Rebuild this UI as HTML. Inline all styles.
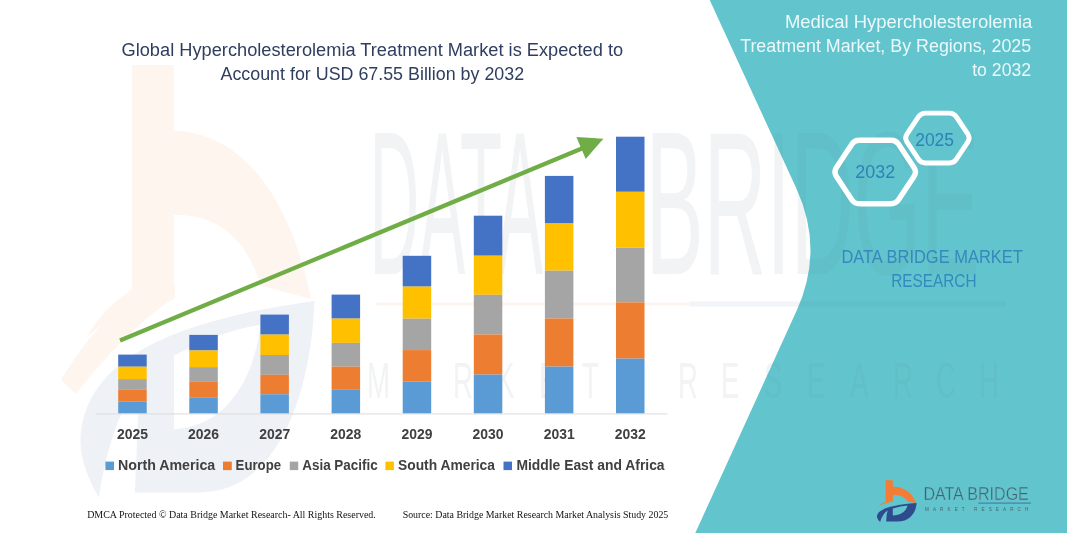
<!DOCTYPE html>
<html><head><meta charset="utf-8"><title>Global Hypercholesterolemia Treatment Market</title>
<style>
html,body{margin:0;padding:0;background:#fff;}
body{width:1067px;height:533px;overflow:hidden;}
svg{display:block;}
text{font-family:"Liberation Sans",sans-serif;}
.serif{font-family:"Liberation Serif",serif;}
</style></head><body>
<svg width="1067" height="533" viewBox="0 0 1067 533">
<defs>
<g id="ICON">
<path fill="#F47C34" d="M885.7,480.3 H892.8 V486.7 C899,486.6 911,489 916.1,502.9 L907.5,501.6 C905.5,497.5 900.5,494.6 892.8,494.8 V501.6 C888,502.4 884,503.6 878,506.6 C880,504.5 883,503 885.7,502 Z"/>
<path fill="#2E4B8E" fill-rule="evenodd" d="M880.1,522.1 C877.5,519.5 876.6,517.5 877.1,515.5 C878.5,510.5 886,505.5 916.6,503.1 C916.3,510 912,521.6 897,521.6 L886.2,521.6 L886.7,514.5 L887.7,510.5 C884.5,512.5 881.5,516.5 880.1,522.1 Z M892.8,508.4 C898,506.8 903,505.8 907.5,505.4 C906.5,510 902.5,515.2 892.8,515.5 Z"/>
</g>
<g id="WM">
<g transform="translate(132,65) scale(5.9,10.35) translate(-885.7,-480.3)"><use href="#ICON"/></g>
<path fill="#F47C34" d="M132,288 L175,284 L175,298 C150,312 112,348 76,394 L61,380 C84,342 108,314 132,298 Z"/>
<text transform="translate(369.5,274) scale(5.6,12.2)" x="0" y="0" font-size="16.8" fill="#4C6470" textLength="30.98" lengthAdjust="spacingAndGlyphs">DATA</text>
<text transform="translate(645.5,274) scale(5.6,12.2)" x="0" y="0" font-size="16.8" fill="#4C6470" textLength="59.64" lengthAdjust="spacingAndGlyphs">BRIDGE</text>
<rect x="376" y="302.5" width="314" height="3" fill="#F47C34"/>
<rect x="690" y="301.5" width="316" height="5" fill="#4A6FA5"/>
<text transform="translate(0,398) scale(6.0,10.9)" x="61.17 68.33 75.50 82.67 89.83 97.00 113.00 120.17 127.33 134.50 141.67 148.83 156.00 163.17" y="0" font-size="4.6" fill="#4C6470">MARKETRESEARCH</text>
</g>
<clipPath id="TEALCLIP"><path d="M709.7,0 L796.5,188.8 Q824.4,249.8 796.6,310.8 L695.3,533 L1067,533 L1067,0 Z"/></clipPath>
<clipPath id="WHITECLIP"><path d="M0,0 L709.7,0 L796.5,188.8 Q824.4,249.8 796.6,310.8 L695.3,533 L0,533 Z"/></clipPath>
</defs>
<rect width="1067" height="533" fill="#ffffff"/>
<!-- watermark (stretched logo) + teal panel -->
<g opacity="0.08"><use href="#WM"/></g>
<path d="M709.7,0 L796.5,188.8 Q824.4,249.8 796.6,310.8 L695.3,533 L1067,533 L1067,0 Z" fill="#62C4CC"/>
<g opacity="0.045" clip-path="url(#TEALCLIP)"><use href="#WM"/></g>
<!-- chart title -->
<g fill="#2F3E60" font-size="17.6">
<text x="121.5" y="56" textLength="501.6" lengthAdjust="spacingAndGlyphs">Global Hypercholesterolemia Treatment Market is Expected to</text>
<text x="220.5" y="79.8" textLength="303.6" lengthAdjust="spacingAndGlyphs">Account for USD 67.55 Billion by 2032</text>
</g>
<!-- axis -->
<rect x="96.3" y="413.4" width="571" height="1" fill="#DCDCDC"/>
<!-- bars -->
<rect x="118.2" y="354.6" width="28.5" height="12.1" fill="#4472C4"/>
<rect x="118.2" y="366.7" width="28.5" height="12.4" fill="#FFC000"/>
<rect x="118.2" y="379.1" width="28.5" height="10.7" fill="#A5A5A5"/>
<rect x="118.2" y="389.8" width="28.5" height="11.9" fill="#ED7D31"/>
<rect x="118.2" y="401.7" width="28.5" height="11.6" fill="#5B9BD5"/>
<rect x="189.3" y="334.9" width="28.5" height="15.6" fill="#4472C4"/>
<rect x="189.3" y="350.5" width="28.5" height="16.6" fill="#FFC000"/>
<rect x="189.3" y="367.1" width="28.5" height="14.2" fill="#A5A5A5"/>
<rect x="189.3" y="381.3" width="28.5" height="16.5" fill="#ED7D31"/>
<rect x="189.3" y="397.8" width="28.5" height="15.5" fill="#5B9BD5"/>
<rect x="260.4" y="314.6" width="28.5" height="20.0" fill="#4472C4"/>
<rect x="260.4" y="334.6" width="28.5" height="20.4" fill="#FFC000"/>
<rect x="260.4" y="355.0" width="28.5" height="19.8" fill="#A5A5A5"/>
<rect x="260.4" y="374.8" width="28.5" height="19.5" fill="#ED7D31"/>
<rect x="260.4" y="394.3" width="28.5" height="19.0" fill="#5B9BD5"/>
<rect x="331.6" y="294.6" width="28.5" height="24.0" fill="#4472C4"/>
<rect x="331.6" y="318.6" width="28.5" height="24.3" fill="#FFC000"/>
<rect x="331.6" y="342.9" width="28.5" height="23.8" fill="#A5A5A5"/>
<rect x="331.6" y="366.7" width="28.5" height="23.1" fill="#ED7D31"/>
<rect x="331.6" y="389.8" width="28.5" height="23.5" fill="#5B9BD5"/>
<rect x="402.7" y="255.8" width="28.5" height="30.8" fill="#4472C4"/>
<rect x="402.7" y="286.6" width="28.5" height="32.1" fill="#FFC000"/>
<rect x="402.7" y="318.7" width="28.5" height="31.4" fill="#A5A5A5"/>
<rect x="402.7" y="350.1" width="28.5" height="31.3" fill="#ED7D31"/>
<rect x="402.7" y="381.4" width="28.5" height="31.9" fill="#5B9BD5"/>
<rect x="473.8" y="215.7" width="28.5" height="40.0" fill="#4472C4"/>
<rect x="473.8" y="255.7" width="28.5" height="39.1" fill="#FFC000"/>
<rect x="473.8" y="294.8" width="28.5" height="39.7" fill="#A5A5A5"/>
<rect x="473.8" y="334.5" width="28.5" height="40.1" fill="#ED7D31"/>
<rect x="473.8" y="374.6" width="28.5" height="38.7" fill="#5B9BD5"/>
<rect x="544.9" y="175.9" width="28.5" height="47.6" fill="#4472C4"/>
<rect x="544.9" y="223.5" width="28.5" height="47.2" fill="#FFC000"/>
<rect x="544.9" y="270.7" width="28.5" height="47.8" fill="#A5A5A5"/>
<rect x="544.9" y="318.5" width="28.5" height="48.1" fill="#ED7D31"/>
<rect x="544.9" y="366.6" width="28.5" height="46.7" fill="#5B9BD5"/>
<rect x="616.0" y="136.7" width="28.5" height="55.1" fill="#4472C4"/>
<rect x="616.0" y="191.8" width="28.5" height="55.9" fill="#FFC000"/>
<rect x="616.0" y="247.7" width="28.5" height="54.7" fill="#A5A5A5"/>
<rect x="616.0" y="302.4" width="28.5" height="56.2" fill="#ED7D31"/>
<rect x="616.0" y="358.6" width="28.5" height="54.7" fill="#5B9BD5"/>
<!-- arrow -->
<line x1="120" y1="340.5" x2="583" y2="148" stroke="#70AD47" stroke-width="4.2"/>
<polygon points="603.4,138.7 576.4,137 585.7,158.9" fill="#70AD47"/>
<!-- year labels -->
<g font-size="13.8" font-weight="bold" fill="#404040">
<text x="132.4" y="438.8" text-anchor="middle" textLength="31" lengthAdjust="spacingAndGlyphs">2025</text>
<text x="203.6" y="438.8" text-anchor="middle" textLength="31" lengthAdjust="spacingAndGlyphs">2026</text>
<text x="274.7" y="438.8" text-anchor="middle" textLength="31" lengthAdjust="spacingAndGlyphs">2027</text>
<text x="345.8" y="438.8" text-anchor="middle" textLength="31" lengthAdjust="spacingAndGlyphs">2028</text>
<text x="416.9" y="438.8" text-anchor="middle" textLength="31" lengthAdjust="spacingAndGlyphs">2029</text>
<text x="488.1" y="438.8" text-anchor="middle" textLength="31" lengthAdjust="spacingAndGlyphs">2030</text>
<text x="559.2" y="438.8" text-anchor="middle" textLength="31" lengthAdjust="spacingAndGlyphs">2031</text>
<text x="630.3" y="438.8" text-anchor="middle" textLength="31" lengthAdjust="spacingAndGlyphs">2032</text>
</g>
<!-- legend -->
<g font-size="14.2" font-weight="bold" fill="#404040">
<rect x="105.4" y="461.6" width="8.6" height="8.5" fill="#5B9BD5"/>
<text x="118" y="469.7" textLength="97.2" lengthAdjust="spacingAndGlyphs">North America</text>
<rect x="223" y="461.6" width="8.8" height="8.5" fill="#ED7D31"/>
<text x="235.6" y="469.7" textLength="45.5" lengthAdjust="spacingAndGlyphs">Europe</text>
<rect x="289.8" y="461.6" width="8.4" height="8.5" fill="#A5A5A5"/>
<text x="302.2" y="469.7" textLength="75.6" lengthAdjust="spacingAndGlyphs">Asia Pacific</text>
<rect x="385.4" y="461.6" width="8.5" height="8.5" fill="#FFC000"/>
<text x="398" y="469.7" textLength="97" lengthAdjust="spacingAndGlyphs">South America</text>
<rect x="503.5" y="461.6" width="8.5" height="8.5" fill="#4472C4"/>
<text x="516.4" y="469.7" textLength="148.2" lengthAdjust="spacingAndGlyphs">Middle East and Africa</text>
</g>
<!-- footer -->
<g class="serif" font-size="9.5" fill="#111111" xml:space="preserve">
<text class="serif" x="87.2" y="518.2" textLength="288.6" lengthAdjust="spacingAndGlyphs">DMCA Protected © Data Bridge Market Research-  All Rights Reserved.</text>
<text class="serif" x="402.7" y="518.2" textLength="265.6" lengthAdjust="spacingAndGlyphs">Source: Data Bridge Market Research  Market Analysis Study 2025</text>
</g>
<!-- right panel title -->
<g fill="#EAF9FB" font-size="18.3" text-anchor="end">
<text x="1032.3" y="27.8" textLength="247.4" lengthAdjust="spacingAndGlyphs">Medical Hypercholesterolemia</text>
<text x="1031.2" y="52.1" textLength="291" lengthAdjust="spacingAndGlyphs">Treatment Market, By Regions, 2025</text>
<text x="1031.2" y="75.8" textLength="59" lengthAdjust="spacingAndGlyphs">to 2032</text>
</g>
<!-- hexagons -->
<path d="M836.3,176.2 Q833.6,172.0 836.3,167.8 L851.7,144.4 Q854.4,140.2 859.4,140.2 L891.0,140.2 Q896.0,140.2 898.7,144.4 L914.1,167.8 Q916.8,172.0 914.1,176.2 L898.7,199.6 Q896.0,203.8 891.0,203.8 L859.4,203.8 Q854.4,203.8 851.7,199.6 Z" fill="none" stroke="#ffffff" stroke-width="5.4" stroke-linejoin="round"/>
<path d="M906.9,141.8 Q904.4,138.0 906.9,134.2 L918.4,116.9 Q920.9,113.1 925.4,113.1 L949.4,113.1 Q953.9,113.1 956.4,116.9 L967.9,134.2 Q970.4,138.0 967.9,141.8 L956.4,159.2 Q953.9,163.0 949.4,163.0 L925.4,163.0 Q920.9,163.0 918.4,159.2 Z" fill="#62C4CC" stroke="#ffffff" stroke-width="4.9" stroke-linejoin="round"/>
<g fill="#2B83BA" font-size="17.8" text-anchor="middle">
<text x="875.2" y="177.8" textLength="39.8" lengthAdjust="spacingAndGlyphs">2032</text>
<text x="934.6" y="145.6" textLength="38.8" lengthAdjust="spacingAndGlyphs">2025</text>
</g>
<!-- DBMR caption -->
<g fill="#3589BC" font-size="18.2">
<text x="841.4" y="262.7" textLength="181.4" lengthAdjust="spacingAndGlyphs">DATA BRIDGE MARKET</text>
<text x="891.3" y="286.9" textLength="85.2" lengthAdjust="spacingAndGlyphs">RESEARCH</text>
</g>
<!-- logo -->
<use href="#ICON"/>
<text x="923.4" y="500" font-size="17.6" fill="#46606E" stroke="#62C4CC" stroke-width="0.4" textLength="105.4" lengthAdjust="spacingAndGlyphs">DATA BRIDGE</text>
<rect x="978.4" y="502.6" width="52.5" height="1" fill="#4A6FA5"/>
<text x="925" y="511.4" font-size="4.6" fill="#4C6470" textLength="103.3" lengthAdjust="spacing">MARKET RESEARCH</text>
</svg>
</body></html>
